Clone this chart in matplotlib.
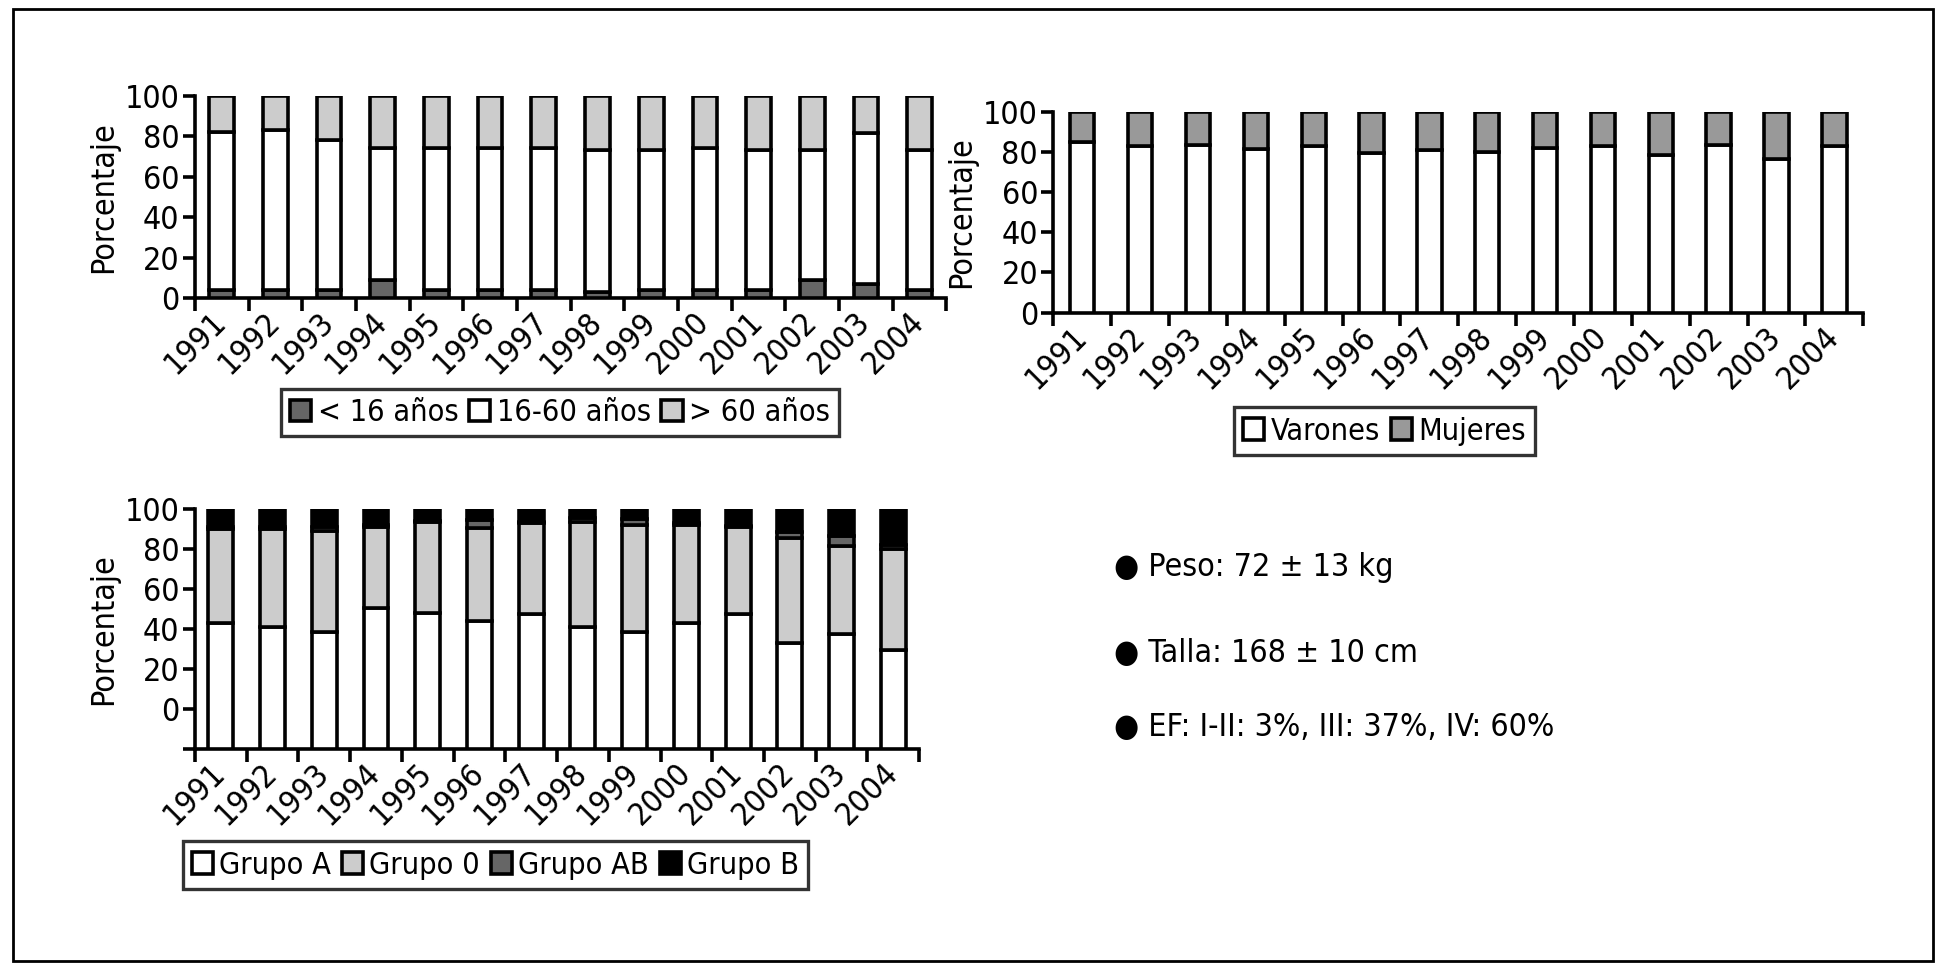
import numpy as np
import matplotlib
matplotlib.use('Agg')
import matplotlib.pyplot as plt
from matplotlib.patches import Rectangle, Patch

plt.rcParams['font.family'] = ['DejaVu Sans']
plt.rcParams['font.stretch'] = 'condensed'

years = ['1991', '1992', '1993', '1994', '1995', '1996', '1997',
         '1998', '1999', '2000', '2001', '2002', '2003', '2004']

# Edad (%)
menos16 = [4, 4, 4, 9, 4, 4, 4, 3, 4, 4, 4, 9, 7, 4]
de16a60 = [78, 79, 74, 65, 70, 70, 70, 70, 69, 70, 69, 64, 74.5, 69]
mas60 = [18, 17, 22, 26, 26, 26, 26, 27, 27, 26, 27, 27, 18.5, 27]

# Sexo (%)
varones = [84.7, 83.1, 83.4, 81.4, 82.7, 79.4, 81.1, 80.1, 81.9, 82.7, 78.6, 83.4, 76.4, 82.7]
mujeres = [100 - v for v in varones]

# Grupo sanguineo (%)
grupo_a = [43, 41, 38.5, 50.5, 48, 44, 47.5, 41, 38.5, 43, 47.5, 33, 37.5, 29.5]
grupo_0 = [47, 49, 50.5, 40.5, 45.5, 46.5, 45.5, 52.5, 53.5, 49, 43.5, 52.5, 44, 50.5]
grupo_ab = [1, 1, 2, 1, 0.5, 4, 0.5, 2, 3, 1, 0.5, 3, 5, 2]
grupo_b = [100 - a - o - ab for a, o, ab in zip(grupo_a, grupo_0, grupo_ab)]

notas = ['Peso: 72 \u00b1 13 kg', 'Talla: 168 \u00b1 10 cm', 'EF: I-II: 3%, III: 37%, IV: 60%']

FS = 23
LW = 2.6

fig = plt.figure(figsize=(19.47, 9.71), dpi=100)
fig.patches.append(Rectangle((0.0065, 0.0105), 0.9865, 0.98, transform=fig.transFigure,
                             fill=False, edgecolor='black', linewidth=2))


def stacked(ax, series, colors, width, ymin=0):
    x = np.arange(len(years))
    bottom = np.full(len(years), float(ymin))
    for i, (vals, c) in enumerate(zip(series, colors)):
        h = np.array(vals, dtype=float)
        if i == 0:
            h = h - ymin
        ax.bar(x, h, width, bottom=bottom, color=c, edgecolor='black', linewidth=LW, zorder=3)
        bottom = bottom + h
    ax.set_xlim(-0.5, len(years) - 0.5)
    ax.set_ylim(ymin, 100)
    ax.set_xticks(np.arange(len(years) + 1) - 0.5)
    ax.set_xticklabels([])
    ax.set_xticks(x, minor=True)
    ax.set_xticklabels(years, minor=True, rotation=45, ha='right', va='center',
                       rotation_mode='anchor', fontsize=FS)
    ax.tick_params(axis='x', which='minor', length=0, pad=14)
    ax.tick_params(axis='x', which='major', length=9, width=LW, direction='out')
    ax.tick_params(axis='y', length=9, width=LW, direction='out', labelsize=FS, pad=2)
    for s in ['top', 'right']:
        ax.spines[s].set_visible(False)
    for s in ['left', 'bottom']:
        ax.spines[s].set_linewidth(LW)
    ax.set_ylabel('Porcentaje', fontsize=FS, labelpad=4)


def legend(labels, colors, center, ncol):
    handles = [Patch(facecolor=c, edgecolor='black', linewidth=LW) for c in colors]
    leg = fig.legend(handles, labels, loc='center', bbox_to_anchor=center, ncol=ncol,
                     fontsize=FS - 1, frameon=True, fancybox=False, handlelength=0.7,
                     handleheight=0.7, handletextpad=0.2, columnspacing=0.35,
                     borderpad=0.3, borderaxespad=0)
    leg.get_frame().set_edgecolor('black')
    leg.get_frame().set_linewidth(2.4)


# Edad
ax1 = fig.add_axes([0.1001, 0.693, 0.386, 0.2085])
stacked(ax1, [menos16, de16a60, mas60], ['#666666', 'white', '#cccccc'], 0.46)
ax1.set_yticks(range(0, 101, 20))
legend(['< 16 a\u00f1os', '16-60 a\u00f1os', '> 60 a\u00f1os'], ['#666666', 'white', '#cccccc'],
       (0.2876, 0.575), 3)

# Sexo
ax2 = fig.add_axes([0.541, 0.678, 0.416, 0.207])
stacked(ax2, [varones, mujeres], ['white', '#999999'], 0.42)
ax2.set_yticks(range(0, 101, 20))
legend(['Varones', 'Mujeres'], ['white', '#999999'], (0.711, 0.556), 2)

# Grupo sanguineo
ax3 = fig.add_axes([0.1001, 0.229, 0.372, 0.2467])
stacked(ax3, [grupo_a, grupo_0, grupo_ab, grupo_b], ['white', '#cccccc', '#666666', 'black'],
        0.48, ymin=-20)
ax3.set_yticks(range(-20, 101, 20))
ax3.set_yticklabels([''] + [str(v) for v in range(0, 101, 20)])
legend(['Grupo A', 'Grupo 0', 'Grupo AB', 'Grupo B'], ['white', '#cccccc', '#666666', 'black'],
       (0.2545, 0.109), 4)

for txt, y in zip(notas, [0.4156, 0.327, 0.2506]):
    fig.text(0.572, y, '\u25cf ' + txt, fontsize=FS, va='center', ha='left')

fig.savefig('out.png', dpi=100)
